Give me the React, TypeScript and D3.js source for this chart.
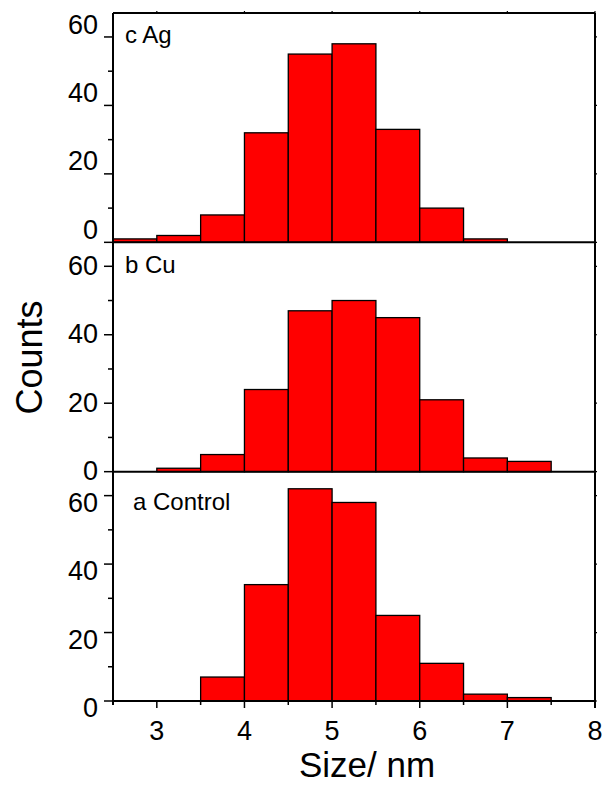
import React from "react";
import * as d3 from "d3";

const binStarts = [2.5, 3, 3.5, 4, 4.5, 5, 5.5, 6, 6.5, 7];
const binWidth = 0.5;
const agCounts = [1, 2, 8, 32, 55, 58, 33, 10, 1, 0];
const cuCounts = [0, 1, 5, 24, 47, 50, 45, 21, 4, 3];
const controlCounts = [0, 0, 7, 34, 62, 58, 25, 11, 2, 1];
const panelLabels = ["c Ag", "b Cu", "a Control"];
const yTicks = [0, 20, 40, 60];
const yMinorTicks = [10, 30, 50];
const xTicks = [3, 4, 5, 6, 7, 8];
const xMinorTicks = [2.5, 3.5, 4.5, 5.5, 6.5, 7.5];

const W = 605;
const H = 786;
const left = 113;
const right = 595;
const top = 13;
const bottom = 701;
const FONT = "'Liberation Sans', Arial, Helvetica, sans-serif";

export default function App() {
  const x = d3.scaleLinear().domain([2.5, 8]).range([left, right]);
  const panelH = (bottom - top) / 3;
  const series = [agCounts, cuCounts, controlCounts];
  const labelDy = [-3.4, 8.5, 16];

  return (
    <svg
      width={W}
      height={H}
      style={{ position: "absolute", left: 0, top: 0, background: "#fff" }}
      fontFamily={FONT}
    >
      <rect x={0} y={0} width={W} height={H} fill="#fff" />
      {series.map((vals, pi) => {
        const y0 = top + pi * panelH;
        const y = d3.scaleLinear().domain([0, 67]).range([y0 + panelH, y0]);
        return (
          <g key={pi}>
            {vals.map((v, i) =>
              v > 0 ? (
                <rect
                  key={i}
                  x={x(binStarts[i])}
                  y={y(v)}
                  width={x(binStarts[i] + binWidth) - x(binStarts[i])}
                  height={y(0) - y(v)}
                  fill="#ff0000"
                  stroke="#000"
                  strokeWidth={1.3}
                />
              ) : null
            )}
            {yTicks.map((t) => (
              <g key={t}>
                <line x1={left - 9} x2={left} y1={y(t)} y2={y(t)} stroke="#000" strokeWidth={1.5} />
                <line x1={right} x2={right + 2} y1={y(t)} y2={y(t)} stroke="#000" strokeWidth={1.2} />
                <text
                  x={98}
                  y={y(t) + labelDy[pi]}
                  textAnchor="end"
                  fontSize={27}
                  fill="#000"
                >
                  {t}
                </text>
              </g>
            ))}
            {yMinorTicks.map((t) => (
              <line key={t} x1={left - 5} x2={left} y1={y(t)} y2={y(t)} stroke="#000" strokeWidth={1.5} />
            ))}
            <text
              x={pi === 2 ? 133 : 125}
              y={y0 + (pi === 2 ? 38 : 30.3)}
              fontSize={24}
              fill="#000"
            >
              {panelLabels[pi]}
            </text>
            <line x1={left} x2={right} y1={y0 + panelH} y2={y0 + panelH} stroke="#000" strokeWidth={2} />
          </g>
        );
      })}
      {/* frame */}
      <line x1={left} x2={right} y1={top} y2={top} stroke="#000" strokeWidth={2} />
      <line x1={left} x2={left} y1={top} y2={bottom + 4} stroke="#000" strokeWidth={2} />
      <line x1={right} x2={right} y1={top} y2={bottom + 7} stroke="#000" strokeWidth={2} />
      {xTicks.map((t) => (
        <g key={t}>
          <line x1={x(t)} x2={x(t)} y1={bottom} y2={bottom + 7} stroke="#000" strokeWidth={1.5} />
          <line x1={x(t)} x2={x(t)} y1={top} y2={top - 2} stroke="#000" strokeWidth={1.2} />
          <text x={x(t)} y={740} textAnchor="middle" fontSize={27} fill="#000">
            {t}
          </text>
        </g>
      ))}
      {xMinorTicks.map((t) => (
        <line key={t} x1={x(t)} x2={x(t)} y1={bottom} y2={bottom + 4} stroke="#000" strokeWidth={1.5} />
      ))}
      <text x={367} y={777} textAnchor="middle" fontSize={35} fill="#000">
        Size/ nm
      </text>
      <text
        transform={`translate(41.5, 357.5) rotate(-90)`}
        textAnchor="middle"
        fontSize={36}
        fill="#000"
      >
        Counts
      </text>
    </svg>
  );
}
